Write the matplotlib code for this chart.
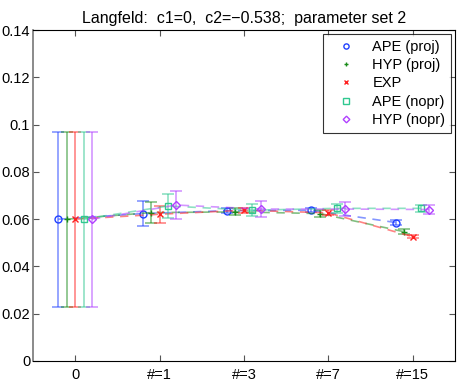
import numpy as np
import matplotlib
matplotlib.use('Agg')
import matplotlib.pyplot as plt

plt.rcParams['font.family'] = ['Liberation Sans', 'DejaVu Sans']

# x positions and labels
tick_labels = ['0', '#=1', '#=3', '#=7', '#=15']

# series values and errors
ape_proj = [0.0600, 0.0624, 0.0636, 0.0638, 0.0586]
ape_proj_err = [0.037, 0.0053, 0.0010, 0.0008, 0.0010]
hyp_proj = [0.0600, 0.0628, 0.0631, 0.0624, 0.0547]
hyp_proj_err = [0.037, 0.0043, 0.0015, 0.0015, 0.0010]
exp_vals = [0.0600, 0.0621, 0.0638, 0.0627, 0.0526]
exp_err = [0.037, 0.0036, 0.0010, 0.0010, 0.0007]
ape_nopr = [0.0600, 0.0656, 0.0638, 0.0646, 0.0646]
ape_nopr_err = [0.037, 0.0050, 0.0025, 0.0020, 0.0015]
hyp_nopr = [0.0600, 0.0660, 0.0643, 0.0643, 0.0641]
hyp_nopr_err = [0.037, 0.0058, 0.0035, 0.0030, 0.0020]

series = [
    ('APE (proj)', ape_proj, ape_proj_err, '#2040ff', 'o', -0.2),
    ('HYP (proj)', hyp_proj, hyp_proj_err, '#1a8c1a', '+', -0.1),
    ('EXP', exp_vals, exp_err, '#ff2020', 'x', 0.0),
    ('APE (nopr)', ape_nopr, ape_nopr_err, '#30c890', 's', 0.1),
    ('HYP (nopr)', hyp_nopr, hyp_nopr_err, '#b040ff', 'D', 0.2),
]

fig = plt.figure(figsize=(4.58, 3.82), dpi=100)
ax = fig.add_axes([0.072, 0.055, 0.921, 0.866])

x = np.arange(len(tick_labels))
for name, vals, err, col, mk, off in series:
    xs = x + off
    ax.errorbar(xs, vals, yerr=err, fmt='none', ecolor=col, alpha=0.55,
                elinewidth=1.2, capsize=4, capthick=1.2)
    ax.plot(xs, vals, '--', color=col, alpha=0.55, lw=1.2, dashes=(5, 4))
    ms = 5 if mk in ('o', 's') else 4.5
    ax.plot(xs, vals, linestyle='none', marker=mk, color=col, ms=ms,
            mfc='none', mew=1, label=name)

ax.set_xlim(-0.5, 4.5)
ax.set_ylim(0, 0.14)
ax.set_xticks(x)
ax.set_xticklabels(tick_labels)
ax.set_yticks(np.arange(0, 0.141, 0.02))
ax.set_yticklabels(['0', '0.02', '0.04', '0.06', '0.08', '0.1', '0.12', '0.14'])
ax.tick_params(direction='in', length=4, labelsize=10.5, top=True, right=True,
               color='#555555')
ax.tick_params(axis='x', pad=5)
ax.tick_params(axis='y', pad=2)
for s in ax.spines.values():
    s.set_linewidth(0.8)
ax.spines['left'].set_color('#777777')
ax.spines['left'].set_linewidth(1.2)
ax.set_title('Langfeld:  c1=0,  c2=\u22120.538;  parameter set 2', fontsize=11.5, pad=5)

leg = ax.legend(loc='upper right', fontsize=10.5, frameon=True, fancybox=False,
                handletextpad=0.6, borderpad=0.4, labelspacing=0.3,
                markerscale=0.75, handlelength=2.4, borderaxespad=0.25)
leg.get_frame().set_edgecolor('black')
leg.get_frame().set_linewidth(0.8)

fig.savefig('out.png', dpi=100)
